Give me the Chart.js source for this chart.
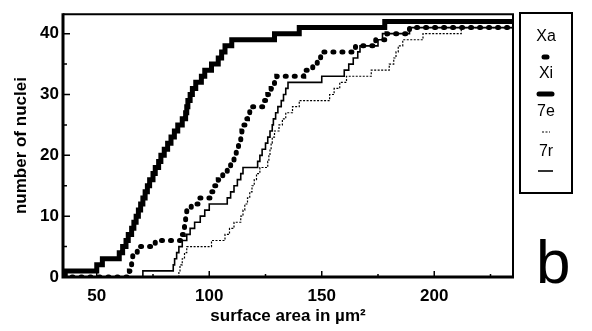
<!DOCTYPE html>
<html>
<head>
<meta charset="utf-8">
<script src="https://cdn.jsdelivr.net/npm/chart.js@4.4.0/dist/chart.umd.min.js"></script>
<style>
  html, body { margin: 0; padding: 0; background: #fff; }
</style>
</head>
<body>
<canvas id="chart" width="592" height="331"></canvas>
<script>
// cumulative number of nuclei against surface area (µm²), one step per nucleus
const xaArea = [35, 64.5, 65, 65.5, 66, 68, 76, 88, 88.5, 89, 89.5, 90, 92, 95, 101, 102, 104, 106, 108, 109.5,
  111, 112, 113, 114, 114.5, 115, 116, 117, 118, 124, 126, 127.5, 129, 130, 142, 146, 148, 149.5, 165, 174, 179, 189, 235];
const xaCount = [0, 1, 2, 3, 4, 5, 6, 7, 8, 9, 10, 11, 12, 13, 14, 15, 16, 17, 18, 19,
  20, 21, 22, 23, 24, 25, 26, 27, 28, 29, 30, 31, 32, 33, 34, 35, 36, 37, 38, 39, 40, 41, 41];

const xiArea = [35, 36, 50, 52.5, 60, 61.5, 63, 64, 65.5, 66.5, 67.5, 68.5, 69.5, 70.5, 71.5, 72.5, 73.5, 75, 76, 77.5,
  78.5, 80, 81.5, 83, 84.5, 86, 88, 89.5, 90, 90.5, 91.5, 92.5, 94, 96.5, 98, 101, 104, 105.5, 107, 110, 129, 140, 178, 235];
const xiCount = [0, 1, 2, 3, 4, 5, 6, 7, 8, 9, 10, 11, 12, 13, 14, 15, 16, 17, 18, 19,
  20, 21, 22, 23, 24, 25, 26, 27, 28, 29, 30, 31, 32, 33, 34, 35, 36, 37, 38, 39, 40, 41, 42, 42];

const e7Area = [35, 86.5, 87, 88, 89, 90, 101, 107, 109, 111, 114, 115, 115.8, 117, 118, 119, 120, 121, 122.5, 126,
  126.5, 127, 127.5, 128, 129, 131, 132.5, 134, 137, 140, 153.5, 155.5, 158, 161, 172, 180, 182, 183, 184, 186, 195, 212, 235];
const e7Count = [0, 1, 2, 3, 4, 5, 6, 7, 8, 9, 10, 11, 12, 13, 14, 15, 16, 17, 18, 19,
  20, 21, 22, 23, 24, 25, 26, 27, 28, 29, 30, 31, 32, 33, 34, 35, 36, 37, 38, 39, 40, 41, 41];

const r7Area = [35, 70.5, 84, 84.6, 85.5, 86.5, 88, 90, 91.5, 93.5, 96, 98, 100, 108, 109.5, 111, 112.5, 114, 115, 121.5,
  122.5, 123.5, 125, 126, 127, 128, 128.5, 129.5, 130.5, 132, 133, 134, 135, 150, 160, 162, 164, 166, 167, 175, 177, 189, 235];
const r7Count = [0, 1, 2, 3, 4, 5, 6, 7, 8, 9, 10, 11, 12, 13, 14, 15, 16, 17, 18, 19,
  20, 21, 22, 23, 24, 25, 26, 27, 28, 29, 30, 31, 32, 33, 34, 35, 36, 37, 38, 39, 40, 41, 41];

const xLabels = [50, 100, 150, 200];
const yLabels = [0, 10, 20, 30, 40];
const xMarks = [50, 75, 100, 125, 150, 175, 200, 225];
const yMarks = [5, 10, 15, 20, 25, 30, 35, 40];

const toPoints = (xs, ys) => xs.map((v, i) => ({x: v, y: ys[i]}));

// frame, inward tick marks, the key box and the panel letter
const frameAndKey = {
  id: 'frameAndKey',
  afterDatasetsDraw(chart) {
    const {ctx, chartArea: a, scales: {x, y}} = chart;
    ctx.save();
    ctx.strokeStyle = '#000';
    ctx.fillStyle = '#000';

    ctx.lineWidth = 2;
    ctx.beginPath();
    ctx.moveTo(a.left, a.top);
    ctx.lineTo(a.right, a.top);
    ctx.lineTo(a.right, a.bottom);
    ctx.stroke();

    ctx.lineWidth = 3;
    ctx.beginPath();
    ctx.moveTo(a.left, a.top - 1);
    ctx.lineTo(a.left, a.bottom);
    ctx.lineTo(a.right + 1, a.bottom);
    ctx.stroke();

    ctx.lineWidth = 1.5;
    ctx.beginPath();
    yMarks.forEach(v => {
      const py = y.getPixelForValue(v);
      const len = v % 10 === 0 ? 7 : 4;
      ctx.moveTo(a.left, py);
      ctx.lineTo(a.left + len, py);
    });
    xMarks.forEach(v => {
      const px = x.getPixelForValue(v);
      const len = v % 50 === 0 ? 6 : 3;
      ctx.moveTo(px, a.bottom);
      ctx.lineTo(px, a.bottom - len);
    });
    ctx.stroke();

    // key
    const kx = 546;
    ctx.lineWidth = 2;
    ctx.strokeRect(520, 13, 52, 180);
    ctx.font = '16px "Liberation Sans", Arial, sans-serif';
    ctx.textAlign = 'center';
    ctx.textBaseline = 'middle';
    const rows = [37, 74, 112, 152];
    const sampleRows = [57, 94, 132, 171];
    chart.data.datasets.forEach((ds, i) => {
      ctx.fillText(ds.label, kx, rows[i]);
      const sy = sampleRows[i];
      ctx.beginPath();
      ctx.setLineDash([]);
      if (i === 0) {
        ctx.lineCap = 'round';
        ctx.lineWidth = 5;
        ctx.moveTo(kx - 2, sy);
        ctx.lineTo(kx + 1, sy);
      } else if (i === 1) {
        ctx.lineCap = 'round';
        ctx.lineWidth = 5;
        ctx.moveTo(kx - 7, sy);
        ctx.lineTo(kx + 6, sy);
      } else if (i === 2) {
        ctx.lineCap = 'butt';
        ctx.lineWidth = 1.2;
        ctx.setLineDash([2, 1.5]);
        ctx.moveTo(kx - 4, sy);
        ctx.lineTo(kx + 4, sy);
      } else {
        ctx.lineCap = 'butt';
        ctx.lineWidth = 1.6;
        ctx.moveTo(kx - 8, sy);
        ctx.lineTo(kx + 7, sy);
      }
      ctx.stroke();
    });

    ctx.setLineDash([]);
    ctx.font = '62px "Liberation Sans", Arial, sans-serif';
    ctx.textAlign = 'left';
    ctx.textBaseline = 'alphabetic';
    ctx.fillText('b', 536, 283);
    ctx.restore();
  }
};

const tickFont = {family: '"Liberation Sans", Arial, sans-serif', size: 17, weight: 'bold'};
const titleFont = {family: '"Liberation Sans", Arial, sans-serif', size: 17, weight: 'bold'};

new Chart(document.getElementById('chart'), {
  type: 'line',
  data: {
    datasets: [{
      label: 'Xa',
      data: toPoints(xaArea, xaCount),
      stepped: true,
      borderColor: '#000',
      borderWidth: 5,
      borderDash: [1, 8],
      borderCapStyle: 'round',
      pointRadius: 0,
      fill: false
    }, {
      label: 'Xi',
      data: toPoints(xiArea, xiCount),
      stepped: true,
      borderColor: '#000',
      borderWidth: 5,
      pointRadius: 0,
      fill: false
    }, {
      label: '7e',
      data: toPoints(e7Area, e7Count),
      stepped: true,
      borderColor: '#000',
      borderWidth: 1.2,
      borderDash: [2, 1.5],
      pointRadius: 0,
      fill: false
    }, {
      label: '7r',
      data: toPoints(r7Area, r7Count),
      stepped: true,
      borderColor: '#000',
      borderWidth: 1.6,
      pointRadius: 0,
      fill: false
    }]
  },
  options: {
    responsive: false,
    animation: false,
    devicePixelRatio: 1,
    layout: {padding: {top: 10, right: 79, left: 0, bottom: 0}},
    plugins: {legend: {display: false}, tooltip: {enabled: false}},
    scales: {
      x: {
        type: 'linear',
        min: 35,
        max: 235,
        afterFit: s => { s.height = 54; },
        afterBuildTicks: s => { s.ticks = xLabels.map(v => ({value: v})); },
        grid: {display: false, drawTicks: false},
        border: {display: false},
        ticks: {color: '#000', font: tickFont, padding: 9, maxRotation: 0},
        title: {display: true, text: 'surface area in µm²', color: '#000', font: titleFont, padding: {top: 0, bottom: 4}}
      },
      y: {
        type: 'linear',
        min: 0,
        max: 43.2,
        afterFit: s => { s.width = 63; },
        afterBuildTicks: s => { s.ticks = yLabels.map(v => ({value: v})); },
        grid: {display: false, drawTicks: false},
        border: {display: false},
        ticks: {color: '#000', font: tickFont, padding: 4},
        title: {display: true, text: 'number of nuclei', color: '#000', font: titleFont, padding: {top: 11, bottom: 0}}
      }
    }
  },
  plugins: [frameAndKey]
});
</script>
</body>
</html>
